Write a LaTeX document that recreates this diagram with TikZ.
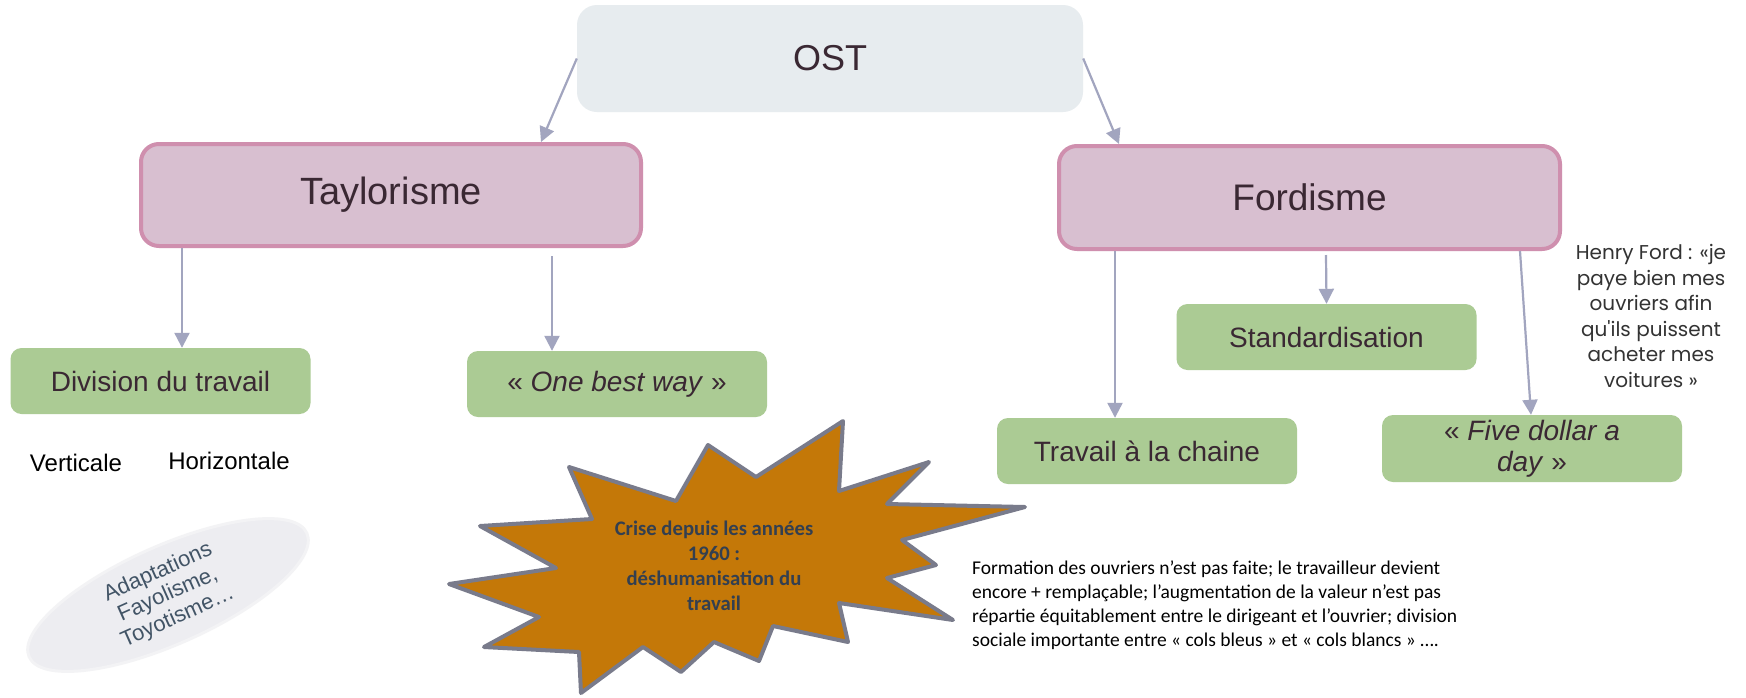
\documentclass[tikz,border=0pt]{standalone}
\usepackage{fontspec}
\setmainfont{Liberation Sans}
\newfontfamily\calib{Carlito}
\newfontfamily\quotefont{Poppins}
\usetikzlibrary{arrows.meta}
\usetikzlibrary{shapes.geometric}

\definecolor{ostfill}{HTML}{E7ECEF}
\definecolor{pinkfill}{HTML}{D8BFD0}
\definecolor{pinkline}{HTML}{CF8FAE}
\definecolor{greenfill}{HTML}{ABCB94}
\definecolor{arrowc}{HTML}{A2A5BF}
\definecolor{boxtext}{HTML}{3A2833}
\definecolor{crisefill}{HTML}{C47808}
\definecolor{criseline}{HTML}{797B8B}
\definecolor{crisetext}{HTML}{333F50}
\definecolor{ellfill}{HTML}{EDEDF1}
\definecolor{ellline}{HTML}{F3F3F5}
\definecolor{elltext}{HTML}{425466}
\definecolor{quotetext}{HTML}{333333}

\tikzset{
	ostbox/.style={fill=ostfill, rounded corners=20pt, minimum width=506pt, minimum height=107pt, inner sep=0pt, text=boxtext, font=\fontsize{36}{43}\selectfont},
	mainbox/.style={fill=pinkfill, draw=pinkline, line width=4pt, rounded corners=18pt, minimum width=500pt, minimum height=102pt, inner sep=0pt, text=boxtext, font=\fontsize{38}{45}\selectfont},
	leafbox/.style={fill=greenfill, rounded corners=11pt, minimum width=300pt, minimum height=66pt, inner sep=0pt, text=boxtext, align=center, font=\fontsize{28}{31}\selectfont},
	arr/.style={draw=arrowc, line width=2.2pt, -{Triangle[width=15pt,length=15pt]}}
}

\begin{document}
\begin{tikzpicture}[x=1pt,y=-1pt]
		\fill[white] (0,0) rectangle (1746,697);
		\useasboundingbox (0,0) rectangle (1746,697);
		% top level
		\node[ostbox] (ost) at (830,58.5) {OST};
		\node[mainbox] (tay) at (391,195) {Taylorisme};
		\node[mainbox, minimum width=501pt, minimum height=103pt, font=\fontsize{37}{44}\selectfont] (ford) at (1309.5,197.5) {Fordisme};
		% green boxes
		\node[leafbox] (div) at (160.5,381) {Division du travail};
		\node[leafbox] (obw) at (617,384) {« \textit{One best way} »};
		\node[leafbox] (std) at (1326.5,337) {Standardisation};
		\node[leafbox] (trav) at (1147,451) {Travail à la chaine};
		\node[leafbox, minimum height=67pt] (five) at (1532,448.5) {« \textit{Five dollar a}\\\textit{day} »};
		% free texts
		\node[font=\fontsize{24}{28}\selectfont] (vert) at (76,463) {Verticale};
		\node[font=\fontsize{24}{28}\selectfont] (horiz) at (229,461) {Horizontale};
		\node[ellipse, fill=ellfill, draw=ellline, line width=3pt, rotate=24, minimum width=304pt, minimum height=96pt, inner sep=0pt, align=center, text=elltext, font=\fontsize{22}{24.5}\selectfont] (adapt) at (168,595) {Adaptations\\Fayolisme,\\Toyotisme…};
		\node[align=center, text=quotetext, font=\quotefont\fontsize{20}{25.5}\selectfont] (henry) at (1651,316) {Henry Ford : «je\\paye bien mes\\ouvriers afin\\qu'ils puissent\\acheter mes\\voitures »};
		\node[anchor=north west, align=left, inner sep=0pt, font=\calib\fontsize{19.5}{24}\selectfont] (formation) at (972,561) {Formation des ouvriers n’est pas faite; le travailleur devient\\encore + remplaçable; l’augmentation de la valeur n’est pas\\répartie équitablement entre le dirigeant et l’ouvrier; division\\sociale importante entre « cols bleus » et « cols blancs » ….};
		% crise
		\draw[fill=crisefill, draw=criseline, line width=4pt, line join=round]
			(843,421) -- (839,491) -- (929,462) -- (887,504) -- (1025,507) -- (902,540) -- (936,565)
			-- (887,578) -- (953,620) -- (839,603) -- (848,642) -- (773,626) -- (759,661) -- (714,642)
			-- (681,672) -- (643,647) -- (581,693) -- (579,652) -- (484,647) -- (539,617) -- (449,584)
			-- (556,568) -- (480,526) -- (592,519) -- (569,467) -- (676,501) -- (708,445) -- (756,477) -- cycle;
		\node[align=center, text=crisetext, font=\calib\bfseries\fontsize{20.7}{25}\selectfont] (crise) at (714,566) {Crise depuis les années\\1960 :\\déshumanisation du\\travail};
		% arrows
		\draw[arr] (ost.west) -- ([xshift=-102pt]tay.north east);
		\draw[arr] (ost.east) -- ([xshift=62pt]ford.north west);
		\draw[arr] ([xshift=-209pt]tay.south) -- ([xshift=21.5pt]div.north);
		\draw[arr] ([xshift=161pt,yshift=-8pt]tay.south) -- ([xshift=-65pt]obw.north);
		\draw[arr] ([xshift=-194.5pt]ford.south) -- ([xshift=-32pt]trav.north);
		\draw[arr] ([xshift=16.5pt,yshift=-4pt]ford.south) -- (std.north);
		\draw[arr] ([xshift=210.5pt]ford.south) -- ([xshift=-1pt]five.north);
	\end{tikzpicture}
\end{document}
